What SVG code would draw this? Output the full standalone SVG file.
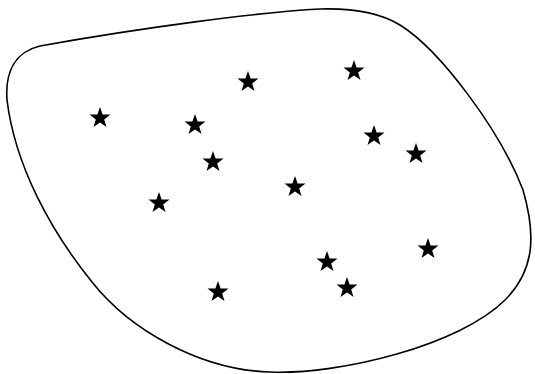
<svg xmlns="http://www.w3.org/2000/svg" xmlns:xlink="http://www.w3.org/1999/xlink" width="535" height="374" viewBox="0 0 535 374">
<defs>
<style>
.blob{fill:none;stroke:#000;stroke-width:1.6}
.star{fill:#000}
</style>
<polygon id="star" class="star" points="0,-11 2.6,-3.6 10.5,-3.4 4.2,1.4 6.5,8.9 0,4.5 -6.5,8.9 -4.2,1.4 -10.5,-3.4 -2.6,-3.6"/>
</defs>
<rect width="535" height="374" fill="#fff"/>
<path class="blob" d="M 40,46 C 140,28 260,12 320,9 C 355,8 382,14 400,25 C 440,50 500,130 523,190 C 536,235 535,270 505,300 C 460,345 340,375 270,372 C 200,370 130,330 92,282 C 50,230 15,165 7,100 C 5,72 15,52 40,46 Z"/>
<g id="stars">
<use xlink:href="#star" x="100" y="118"/>
<use xlink:href="#star" x="248" y="82"/>
<use xlink:href="#star" x="354" y="71"/>
<use xlink:href="#star" x="195" y="125"/>
<use xlink:href="#star" x="374" y="136"/>
<use xlink:href="#star" x="416" y="154"/>
<use xlink:href="#star" x="213" y="162"/>
<use xlink:href="#star" x="295" y="187"/>
<use xlink:href="#star" x="159" y="203"/>
<use xlink:href="#star" x="428" y="249"/>
<use xlink:href="#star" x="327" y="262"/>
<use xlink:href="#star" x="347" y="288"/>
<use xlink:href="#star" x="218" y="292"/>
</g>
</svg>
